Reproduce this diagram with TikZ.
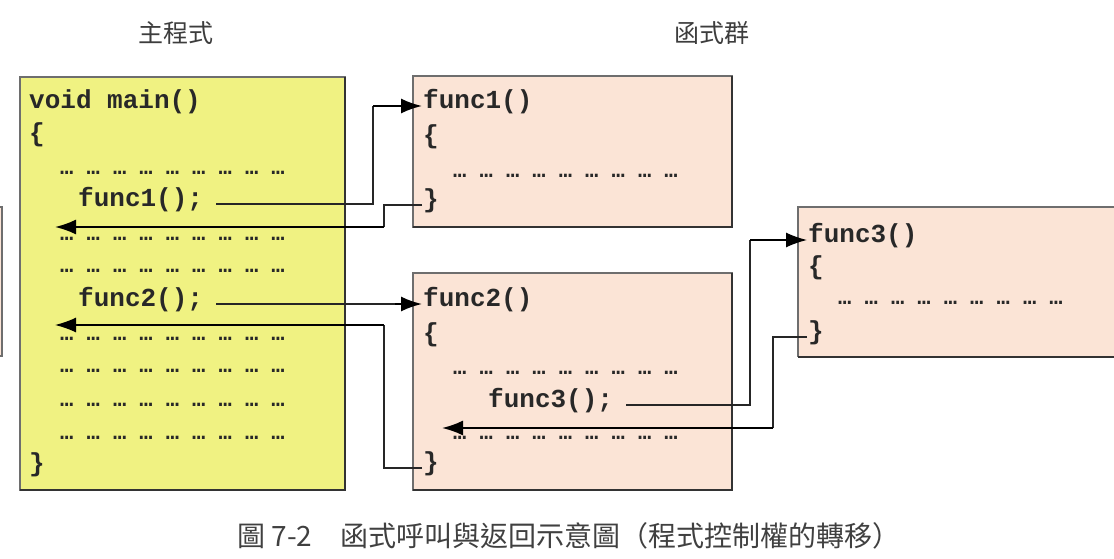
\documentclass[tikz,border=0pt]{standalone}
\usepackage{fontspec}
\setmonofont{Liberation Mono}
\newfontfamily\cjk{Noto Sans CJK TC}
\usetikzlibrary{arrows.meta}
\definecolor{mainfill}{RGB}{240,242,130}
\definecolor{funcfill}{RGB}{251,228,214}
\definecolor{boxline}{RGB}{110,110,110}
\definecolor{txt}{RGB}{40,40,40}
\tikzset{
  box/.style={draw=boxline, line width=1.2pt},
  code/.style={anchor=mid west, inner sep=0pt, yshift=-4pt, text=txt, font=\fontsize{26}{30}\selectfont\ttfamily\bfseries},
  dots/.style={anchor=mid west, inner sep=0pt, text=txt, font=\fontsize{22}{26}\selectfont\ttfamily\bfseries},
  title/.style={inner sep=0pt, text=txt!90, font=\fontsize{25}{30}\selectfont\cjk},
  thinline/.style={draw=black!85, line width=1.1pt},
  arrowline/.style={draw=black, line width=1.9pt, -{Latex[length=21pt,width=15pt]}},
}
\begin{document}
\begin{tikzpicture}[x=1pt,y=-1pt]
\useasboundingbox (0,0) rectangle (1114,559);
% partial box at left edge
\fill[funcfill] (-5,207) rectangle (2,356);
\draw[box] (-5,207) -| (2,356) -- (-5,356);
% boxes
\fill[mainfill] (20,77) rectangle (345,490);
\draw[box] (20,77) rectangle (345,490);
\draw[draw=black!80, line width=2pt] (20,490) -- (345,490) -- (345,77);
\fill[funcfill] (413,76) rectangle (732,227);
\draw[box] (413,76) rectangle (732,227);
\draw[draw=black!80, line width=2pt] (413,227) -- (732,227) -- (732,76);
\fill[funcfill] (413,273) rectangle (732,490);
\draw[box] (413,273) rectangle (732,490);
\draw[draw=black!80, line width=2pt] (413,490) -- (732,490) -- (732,273);
\fill[funcfill] (798,207) rectangle (1120,357);
\draw[box] (1120,207) -- (798,207) -- (798,357);
\draw[draw=black!80, line width=2pt] (798,357) -- (1120,357);
% titles
\node[title] (t1) at (176,33) {主程式};
\node[title] (t2) at (712,33) {函式群};
% main
\node[code] (m0) at (29,102) {void main()};
\node[code] (m1) at (29,135) {\{};
\node[dots] (md1) at (60,172) {… … … … … … … … …};
\node[code] (mf1) at (78,200) {func1();};
\node[dots] (md2) at (60,238) {… … … … … … … … …};
\node[dots] (md3) at (60,270) {… … … … … … … … …};
\node[code] (mf2) at (78,300) {func2();};
\node[dots] (md4) at (60,338) {… … … … … … … … …};
\node[dots] (md5) at (60,370) {… … … … … … … … …};
\node[dots] (md6) at (60,404) {… … … … … … … … …};
\node[dots] (md7) at (60,437) {… … … … … … … … …};
\node[code] (m9) at (29,465) {\}};
% func1
\node[code] (f1t) at (423,102) {func1()};
\node[code] (f1o) at (423,137) {\{};
\node[dots] (f1d) at (453,175) {… … … … … … … … …};
\node[code] (f1e) at (423,201) {\}};
% func2
\node[code] (f2t) at (423,300) {func2()};
\node[code] (f2o) at (423,335) {\{};
\node[dots] (f2d1) at (453,372) {… … … … … … … … …};
\node[code] (f2c) at (488,401) {func3();};
\node[dots] (f2d2) at (453,437) {… … … … … … … … …};
\node[code] (f2e) at (423,464) {\}};
% func3
\node[code] (f3t) at (808,236) {func3()};
\node[code] (f3o) at (808,268) {\{};
\node[dots] (f3d) at (838,302) {… … … … … … … … …};
\node[code] (f3e) at (808,333) {\}};
% return points and bend columns
\coordinate (r1) at (55,227);
\coordinate (r2) at (55,325);
\coordinate (r3) at (442,428);
\coordinate (b1) at (373,0);
\coordinate (b2) at (384,0);
\coordinate (b3) at (395,0);
\coordinate (b4) at (750,0);
\coordinate (b5) at (773,0);
% call func1
\draw[thinline] ([xshift=13pt]mf1.mid east) -| (b1 |- f1t.mid west);
\draw[arrowline] (b1 |- f1t.mid west) -- ([xshift=-1pt]f1t.mid west);
% return func1
\draw[thinline] ([xshift=-1pt]f1e.mid west) -| (b2 |- r1);
\draw[arrowline] (b2 |- r1) -- (r1);
% call func2
\draw[thinline] ([xshift=13pt]mf2.mid east) -- (b3 |- f2t.mid west);
\draw[arrowline] (b3 |- f2t.mid west) -- ([xshift=-1pt]f2t.mid west);
% return func2
\draw[thinline] ([xshift=-1pt]f2e.mid west) -| (b2 |- r2);
\draw[arrowline, line width=1.4pt] (b2 |- r2) -- (r2);
% call func3
\draw[thinline] ([xshift=13pt]f2c.mid east) -| (b4 |- f3t.mid west);
\draw[arrowline, line width=1.4pt] (b4 |- f3t.mid west) -- ([xshift=-1pt]f3t.mid west);
% return func3
\draw[thinline] ([xshift=-1pt]f3e.mid west) -| (b5 |- r3);
\draw[arrowline] (b5 |- r3) -- (r3);
% caption
\node[inner sep=0pt, anchor=mid west, text=black!75, font=\fontsize{28}{32}\selectfont\cjk] (cap) at (237,544) {圖 7-2　函式呼叫與返回示意圖（程式控制權的轉移）};
\end{tikzpicture}
\end{document}
